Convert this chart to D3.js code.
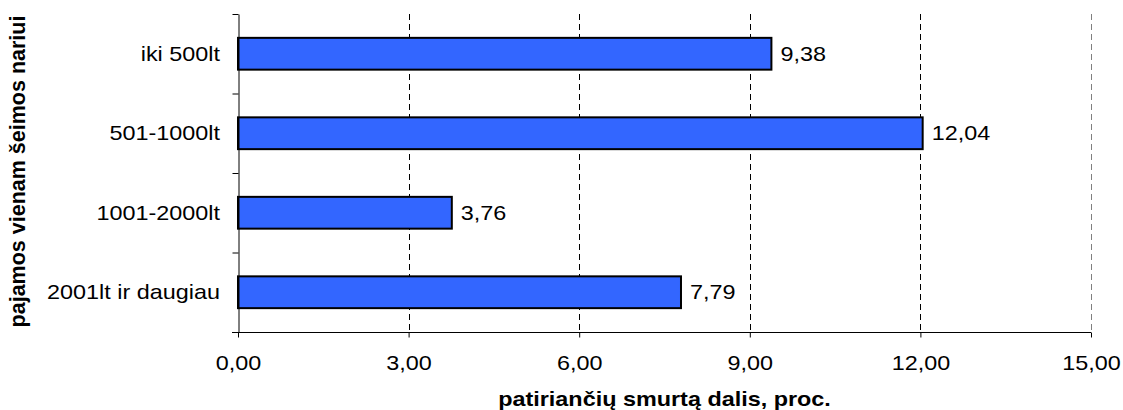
<!DOCTYPE html>
<html>
<head>
<meta charset="utf-8">
<script src="https://cdn.jsdelivr.net/npm/d3@7"></script>
<style>
  body { margin: 0; background: #fff; }
  svg { display: block; font-family: "Liberation Sans", Arial, sans-serif; }
</style>
</head>
<body>
<svg id="chart" width="1123" height="410"></svg>
<script>
// data
var categories = ["iki 500lt", "501-1000lt", "1001-2000lt", "2001lt ir daugiau"];
var values = [9.38, 12.04, 3.76, 7.79];
var xTicks = [0, 3, 6, 9, 12, 15];
var xTitle = "patiriančių smurtą dalis, proc.";
var yTitle = "pajamos vienam šeimos nariui";

var svg = d3.select("#chart"),
    pLeft = 238, pRight = 1091, pTop = 14, pBottom = 332,
    fs = 20, sx = "scale(1.17,1)";   // original text is a bit wider than Arial

var fmt = function (d) { return d.toFixed(2).replace(".", ","); };

var x = d3.scaleLinear().domain([0, 15]).range([pLeft, pRight]);
var y = d3.scaleBand().domain(categories).range([pTop, pBottom]).paddingInner(0.6).paddingOuter(0.3);

// dashed grid
svg.append("g").selectAll("line")
  .data(xTicks.filter(function (d) { return d > 0; }))
  .join("line")
  .attr("x1", function (d) { return Math.round(x(d)) + 0.5; })
  .attr("x2", function (d) { return Math.round(x(d)) + 0.5; })
  .attr("y1", pTop).attr("y2", pBottom)
  .attr("stroke", function (d) { return d === 15 ? "#808080" : "#000"; })
  .attr("stroke-width", 1)
  .attr("stroke-dasharray", "6,4");

// bars
svg.append("g").selectAll("rect")
  .data(values)
  .join("rect")
  .attr("x", x(0))
  .attr("y", function (d, i) { return y(categories[i]); })
  .attr("width", function (d) { return x(d) - x(0); })
  .attr("height", y.bandwidth())
  .attr("fill", "#3366FF")
  .attr("stroke", "#000")
  .attr("stroke-width", 2);

// value labels
svg.append("g").selectAll("text")
  .data(values)
  .join("text")
  .attr("transform", function (d, i) {
    return "translate(" + (x(d) + 9) + "," + (y(categories[i]) + y.bandwidth() / 2) + ") " + sx;
  })
  .attr("dy", "0.35em")
  .attr("font-size", fs)
  .text(fmt);

// x axis
var xAxis = svg.append("g")
  .attr("transform", "translate(0," + (pBottom + 0.5) + ")")
  .call(d3.axisBottom(x).tickValues(xTicks).tickFormat(fmt).tickSizeOuter(0).tickSize(5).tickPadding(18));
xAxis.attr("font-family", null).attr("font-size", null);
xAxis.select(".domain").attr("d", "M" + (pLeft - 6) + ",0H" + pRight).attr("stroke", "#000");
xAxis.selectAll("text").attr("font-size", fs).attr("fill", "#000").attr("transform", sx);
xAxis.selectAll("line").attr("stroke", "#000");

// y axis (ticks at band boundaries)
var yLin = d3.scaleLinear().domain([0, categories.length]).range([pTop, pBottom]);
var yAxis = svg.append("g")
  .attr("transform", "translate(" + (pLeft + 0.5) + ",0)")
  .call(d3.axisLeft(yLin).ticks(categories.length).tickFormat("").tickSize(6).tickSizeOuter(0));
yAxis.select(".domain").attr("stroke", "#000");
yAxis.selectAll("line").attr("stroke", "#000");

// category labels
svg.append("g").selectAll("text")
  .data(categories)
  .join("text")
  .attr("transform", function (d) {
    return "translate(220," + (y(d) + y.bandwidth() / 2) + ") " + sx;
  })
  .attr("dy", "0.35em")
  .attr("text-anchor", "end")
  .attr("font-size", fs)
  .text(function (d) { return d; });

// titles
svg.append("text")
  .attr("transform", "translate(664.5,406) " + sx)
  .attr("text-anchor", "middle")
  .attr("font-size", fs).attr("font-weight", "bold")
  .text(xTitle);

svg.append("text")
  .attr("transform", "translate(25,171.5) rotate(-90)")
  .attr("text-anchor", "middle")
  .attr("font-size", 21.5).attr("font-weight", "bold")
  .text(yTitle);
</script>
</body>
</html>
